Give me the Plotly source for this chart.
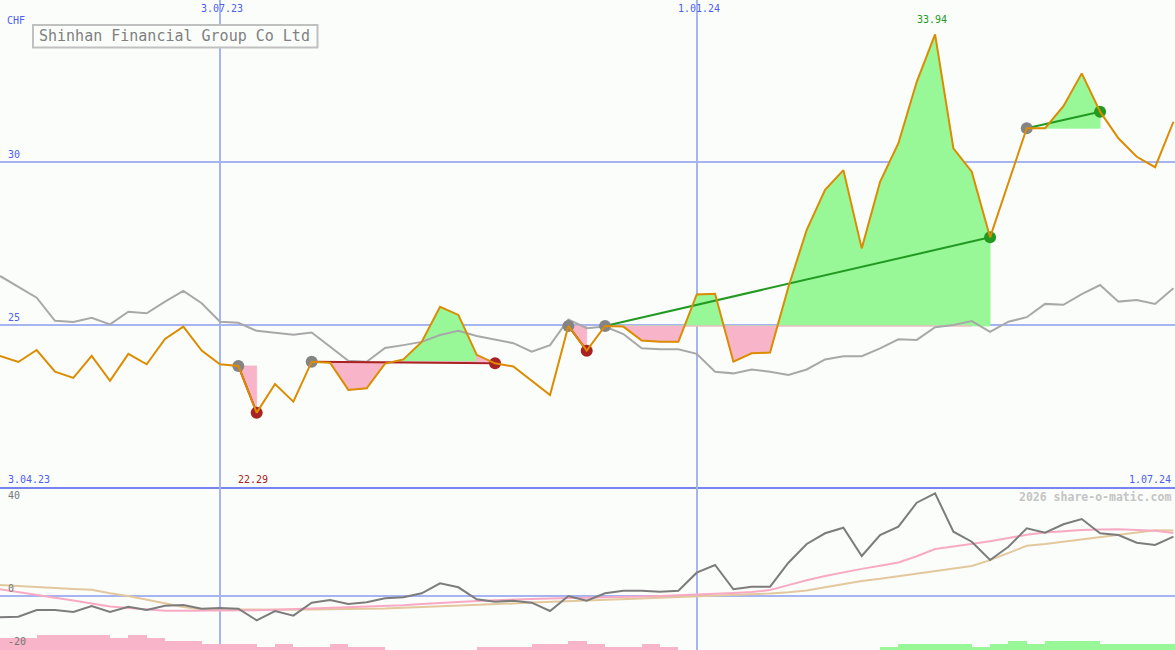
import plotly.graph_objects as go
import pandas as pd

# ---------------- data ----------------
dates = pd.date_range("2023-04-10", periods=65, freq="7D")

price = [24.04, 23.85, 24.22, 23.55, 23.36, 24.04, 23.27, 24.10, 23.78, 24.56,
         24.94, 24.20, 23.78, 23.73, 22.29, 23.17, 22.63, 23.86, 23.83, 22.99,
         23.04, 23.80, 23.93, 24.47, 25.55, 25.30, 24.07, 23.81, 23.71, 23.26,
         22.83, 24.96, 24.20, 24.96, 24.94, 24.51, 24.47, 24.47, 25.93, 25.95,
         23.86, 24.12, 24.14, 26.16, 27.92, 29.15, 29.76, 27.35, 29.40, 30.59,
         32.48, 33.94, 30.43, 29.71, 27.69, 29.37, 31.05, 31.05, 31.73, 32.74,
         31.56, 30.74, 30.17, 29.85, 31.25]

avg_line = [26.50, 26.17, 25.83, 25.12, 25.08, 25.21, 25.01, 25.40, 25.35, 25.71,
            26.04, 25.66, 25.09, 25.06, 24.81, 24.75, 24.69, 24.76, 24.32, 23.89,
            23.86, 24.28, 24.37, 24.47, 24.68, 24.81, 24.65, 24.53, 24.43, 24.17,
            24.37, 25.16, 24.89, 24.94, 24.71, 24.27, 24.24, 24.24, 24.10, 23.55,
            23.50, 23.62, 23.55, 23.45, 23.62, 23.93, 24.03, 24.03, 24.27, 24.55,
            24.53, 24.92, 24.99, 25.11, 24.78, 25.09, 25.23, 25.64, 25.61, 25.94,
            26.22, 25.71, 25.76, 25.64, 26.12]

osc = [-7.96, -7.74, -5.27, -5.27, -6.00, -3.80, -6.00, -4.06, -5.27, -3.69,
       -3.43, -4.79, -4.53, -4.79, -9.06, -5.64, -7.37, -2.58, -1.59, -3.06,
       -2.44, -0.96, -0.60, 0.88, 4.56, 3.08, -1.33, -2.22, -1.85, -2.58,
       -5.64, -0.12, -1.85, 0.88, 1.83, 1.83, 1.47, 1.83, 8.46, 11.29,
       2.35, 3.31, 3.31, 12.14, 19.02, 22.96, 25.02, 14.60, 22.33, 25.39,
       34.22, 37.68, 23.55, 19.87, 13.13, 18.03, 24.80, 23.18, 26.27, 28.22,
       22.96, 22.33, 19.50, 18.65, 21.71]

osc_fast = [2.35, 1.24, 0.32, -0.74, -1.81, -2.88, -3.98, -4.57, -5.12, -5.53,
            -5.53, -5.53, -5.49, -5.42, -5.34, -5.20, -4.98, -4.75, -4.57, -4.39,
            -4.20, -3.98, -3.50, -3.06, -2.62, -2.22, -1.96, -1.70, -1.37, -1.22,
            -1.07, -0.96, -0.85, -0.74, -0.56, -0.34, -0.12, 0.10, 0.29, 0.65,
            0.95, 1.32, 2.09, 3.89, 5.70, 7.21, 8.61, 9.86, 11.03, 12.21,
            14.53, 17.18, 18.06, 18.98, 20.05, 21.19, 22.41, 23.25, 23.84, 24.21,
            24.32, 24.43, 24.17, 23.88, 23.03]

osc_slow = [3.93, 3.53, 3.12, 2.68, 2.42, 2.16, 0.88, -0.12, -1.48, -2.84,
            -4.20, -5.01, -5.09, -5.16, -5.23, -5.23, -5.20, -5.12, -5.09, -4.98,
            -4.83, -4.72, -4.46, -4.24, -3.98, -3.80, -3.47, -3.17, -2.88, -2.55,
            -2.25, -1.96, -1.70, -1.55, -1.30, -1.00, -0.74, -0.49, -0.34, -0.01,
            0.32, 0.47, 0.80, 1.24, 1.91, 3.08, 4.26, 5.44, 6.21, 7.10,
            8.24, 9.08, 9.93, 10.92, 13.10, 15.78, 18.36, 19.02, 19.87, 20.79,
            21.71, 22.63, 23.40, 24.10, 24.03]

N = None
bar_down = [4.5, 4.5, 5.5, 5.5, 5.5, 5.5, 4.5, 5.5, 4.5, 3.3,
            3.3, 2.2, 2.2, 2.2, 1.2, 2.2, 1.2, 1.2, 2.2, 1.2,
            1.2, N, N, N, N, N, 1.2, 1.2, 1.2, 2.2,
            2.2, 3.3, 2.2, 1.2, 1.2, 2.2, 1.2, N, N, N,
            N, N, N, N, N, N, N, N, N, N,
            N, N, N, N, N, N, N, N, N, N,
            N, N, N, N, N]
bar_up = [N] * 48 + [1.2, 2.2, 2.2, 2.2, 2.2, 1.2, 2.2, 3.3, 2.2, 3.3,
                     3.3, 3.3, 2.2, 2.2, 2.2, 2.2, 2.2]

signal_start = [13, 17, 31, 33, 56]
signal_end = [14, 27, 32, 54, 60]

x_grid = ["2023-07-03", "2024-01-01"]
x_grid_labels = ["3.07.23", "1.01.24"]
y_grid = [25, 30]
title_text = "Shinhan Financial Group Co Ltd"

# ---------------- style ----------------
BG = "#fbfdfb"
GRID = "#a6b4f2"
SEP = "#7584ee"
BLUE = "#4d5ef0"
ORANGE = "#dc8c00"
GRAYLINE = "#a8a8a8"
PINK = "#f8b4c8"
LGREEN = "#98f898"
DKRED = "#a82222"
DKGREEN = "#229a22"
FONT = "DejaVu Sans Mono"

fig = go.Figure()

t = [d.value / 1e6 for d in dates]


def to_dt(vals):
    return list(pd.to_datetime(vals, unit="ms"))


def add_poly(xs, ys, col):
    fig.add_trace(go.Scatter(x=to_dt(xs), y=ys, mode="lines", fill="toself",
                             fillcolor=col, line=dict(width=0.8, color=col),
                             hoverinfo="skip", showlegend=False,
                             xaxis="x", yaxis="y"))


# fills for each signal
for s, e in zip(signal_start, signal_end):
    b = price[s]
    win = price[e] > b
    last = e - 1
    if last > s:
        pts = []
        for k in range(s, last):
            pts.append((t[k], price[k]))
            d0 = price[k] - b
            d1 = price[k + 1] - b
            if d0 * d1 < 0:
                f = d0 / (d0 - d1)
                pts.append((t[k] + f * (t[k + 1] - t[k]), b))
        pts.append((t[last], price[last]))
        for col, fn in ((LGREEN, max), (PINK, min)):
            xs = [p[0] for p in pts] + [t[last], t[s]]
            ys = [fn(p[1], b) for p in pts] + [b, b]
            if any(abs(y - b) > 1e-9 for y in ys):
                add_poly(xs, ys, col)
    # final segment coloured by the outcome of the signal
    add_poly([t[last], t[last], t[e], t[e], t[last]],
             [b, price[last], price[e], b, b], LGREEN if win else PINK)

# gray average line
fig.add_trace(go.Scatter(x=dates, y=avg_line, mode="lines",
                         line=dict(color=GRAYLINE, width=2), showlegend=False,
                         xaxis="x", yaxis="y"))

# signal lines
for s, e in zip(signal_start, signal_end):
    col = DKGREEN if price[e] > price[s] else DKRED
    fig.add_trace(go.Scatter(x=[dates[s], dates[e]], y=[price[s], price[e]],
                             mode="lines", line=dict(color=col, width=2),
                             showlegend=False, xaxis="x", yaxis="y"))

# dots
fig.add_trace(go.Scatter(x=[dates[s] for s in signal_start],
                         y=[price[s] for s in signal_start], mode="markers",
                         marker=dict(size=12, color="#848484"),
                         showlegend=False, xaxis="x", yaxis="y"))
fig.add_trace(go.Scatter(x=[dates[e] for e in signal_end],
                         y=[price[e] for e in signal_end], mode="markers",
                         marker=dict(size=12, color=[DKGREEN if price[e] > price[s] else DKRED
                                                     for s, e in zip(signal_start, signal_end)]),
                         showlegend=False, xaxis="x", yaxis="y"))

# price line
fig.add_trace(go.Scatter(x=dates, y=price, mode="lines",
                         line=dict(color=ORANGE, width=2), showlegend=False,
                         xaxis="x", yaxis="y"))

# lower panel
WEEK = 7 * 86400000
fig.add_trace(go.Bar(x=dates, y=bar_down, base=-20, width=WEEK, offset=0,
                     marker=dict(color=PINK, line=dict(width=0)), showlegend=False,
                     xaxis="x2", yaxis="y2"))
fig.add_trace(go.Bar(x=dates, y=bar_up, base=-20, width=WEEK, offset=0,
                     marker=dict(color=LGREEN, line=dict(width=0)), showlegend=False,
                     xaxis="x2", yaxis="y2"))
fig.add_trace(go.Scatter(x=dates, y=osc_slow, mode="lines",
                         line=dict(color="#e2c89c", width=2), showlegend=False,
                         xaxis="x2", yaxis="y2"))
fig.add_trace(go.Scatter(x=dates, y=osc_fast, mode="lines",
                         line=dict(color="#f8aac4", width=2), showlegend=False,
                         xaxis="x2", yaxis="y2"))
fig.add_trace(go.Scatter(x=dates, y=osc, mode="lines",
                         line=dict(color="#7c7c7c", width=2), showlegend=False,
                         xaxis="x2", yaxis="y2"))

SPLIT = 163 / 650
xr = ["2023-04-10", "2024-07-01 14:24"]
common_x = dict(type="date", range=xr, tickvals=x_grid, showticklabels=False,
                showgrid=True, gridcolor=GRID, gridwidth=2, zeroline=False, ticks="")

anns = []
# top date labels
for d, lab in zip(x_grid, x_grid_labels):
    anns.append(dict(x=d, xref="x", y=1 - 9 / 650, yref="paper", text=lab,
                     showarrow=False, xanchor="center", yanchor="middle", xshift=2,
                     font=dict(color=BLUE, size=10, family=FONT)))
for v in y_grid:
    anns.append(dict(x=6 / 1175, xref="paper", y=v, yref="y", text=str(v),
                     showarrow=False, xanchor="left", yanchor="bottom",
                     font=dict(color=BLUE, size=10, family=FONT)))
anns.append(dict(x=5 / 1175, xref="paper", y=1 - 20.5 / 650, yref="paper", text="CHF",
                 showarrow=False, xanchor="left", yanchor="middle",
                 font=dict(color=BLUE, size=10, family=FONT)))
anns.append(dict(x=6 / 1175, xref="paper", y=SPLIT, yref="paper", text="3.04.23",
                 showarrow=False, xanchor="left", yanchor="bottom",
                 font=dict(color=BLUE, size=10, family=FONT)))
anns.append(dict(x=1173 / 1175, xref="paper", y=SPLIT, yref="paper", text="1.07.24",
                 showarrow=False, xanchor="right", yanchor="bottom",
                 font=dict(color=BLUE, size=10, family=FONT)))
imin = price.index(min(price))
imax = price.index(max(price))
anns.append(dict(x=dates[imin], xref="x", y=SPLIT, yref="paper",
                 text=f"{price[imin]:.2f}", showarrow=False, xanchor="center",
                 yanchor="bottom", xshift=-4,
                 font=dict(color=DKRED, size=10, family=FONT)))
anns.append(dict(x=dates[imax], xref="x", y=price[imax], yref="y",
                 text=f"{price[imax]:.2f}", showarrow=False, xanchor="center",
                 yanchor="bottom", yshift=7, xshift=-3,
                 font=dict(color=DKGREEN, size=10, family=FONT)))
# title
anns.append(dict(x=174 / 1175, xref="paper", y=1 - 36.3 / 650, yref="paper",
                 text=title_text, showarrow=False, xanchor="center", yanchor="middle",
                 font=dict(color="#808080", size=15, family=FONT)))
# lower labels
for v, anchor, shift in ((40, "top", -1), (0, "bottom", 0), (-20, "bottom", 1)):
    anns.append(dict(x=6 / 1175, xref="paper", y=v, yref="y2", text=str(v),
                     showarrow=False, xanchor="left", yanchor=anchor, yshift=shift,
                     font=dict(color="#777777", size=10, family=FONT)))
anns.append(dict(x=1173 / 1175, xref="paper", y=40, yref="y2",
                 text="<b>2026 share-o-matic.com</b>", showarrow=False,
                 xanchor="right", yanchor="top", yshift=-1,
                 font=dict(color="#c4c4c4", size=11.5, family=FONT)))

shapes = [dict(type="rect", xref="paper", yref="paper",
               x0=33 / 1175, x1=317.5 / 1175, y0=1 - 47.5 / 650, y1=1 - 25 / 650,
               line=dict(color="#c0c0c0", width=2), fillcolor=BG, layer="above")]

fig.update_layout(
    width=1175, height=650, margin=dict(l=0, r=0, t=0, b=0),
    paper_bgcolor=BG, plot_bgcolor=BG, barmode="overlay", bargap=0,
    font=dict(family=FONT, size=10),
    showlegend=False, hovermode=False,
    xaxis=dict(domain=[0, 1], anchor="y", showline=True, linecolor=SEP, linewidth=2,
               **common_x),
    yaxis=dict(domain=[SPLIT, 1], anchor="x", range=[20, 35], tickvals=y_grid,
               showticklabels=False, showgrid=True, gridcolor=GRID, gridwidth=2,
               zeroline=False, ticks=""),
    xaxis2=dict(domain=[0, 1], anchor="y2", matches="x", showline=False, **common_x),
    yaxis2=dict(domain=[0, SPLIT], anchor="x2", range=[-20, 40], tickvals=[0],
                showticklabels=False, showgrid=True, gridcolor=GRID, gridwidth=2,
                zeroline=False, ticks=""),
    annotations=anns, shapes=shapes,
)

fig.write_html("out.html", config={"displayModeBar": False},
               post_script="document.body.style.margin='0';"
                           "document.body.style.padding='0';"
                           "document.body.style.overflow='hidden';"
                           "document.body.style.background='" + BG + "';")
